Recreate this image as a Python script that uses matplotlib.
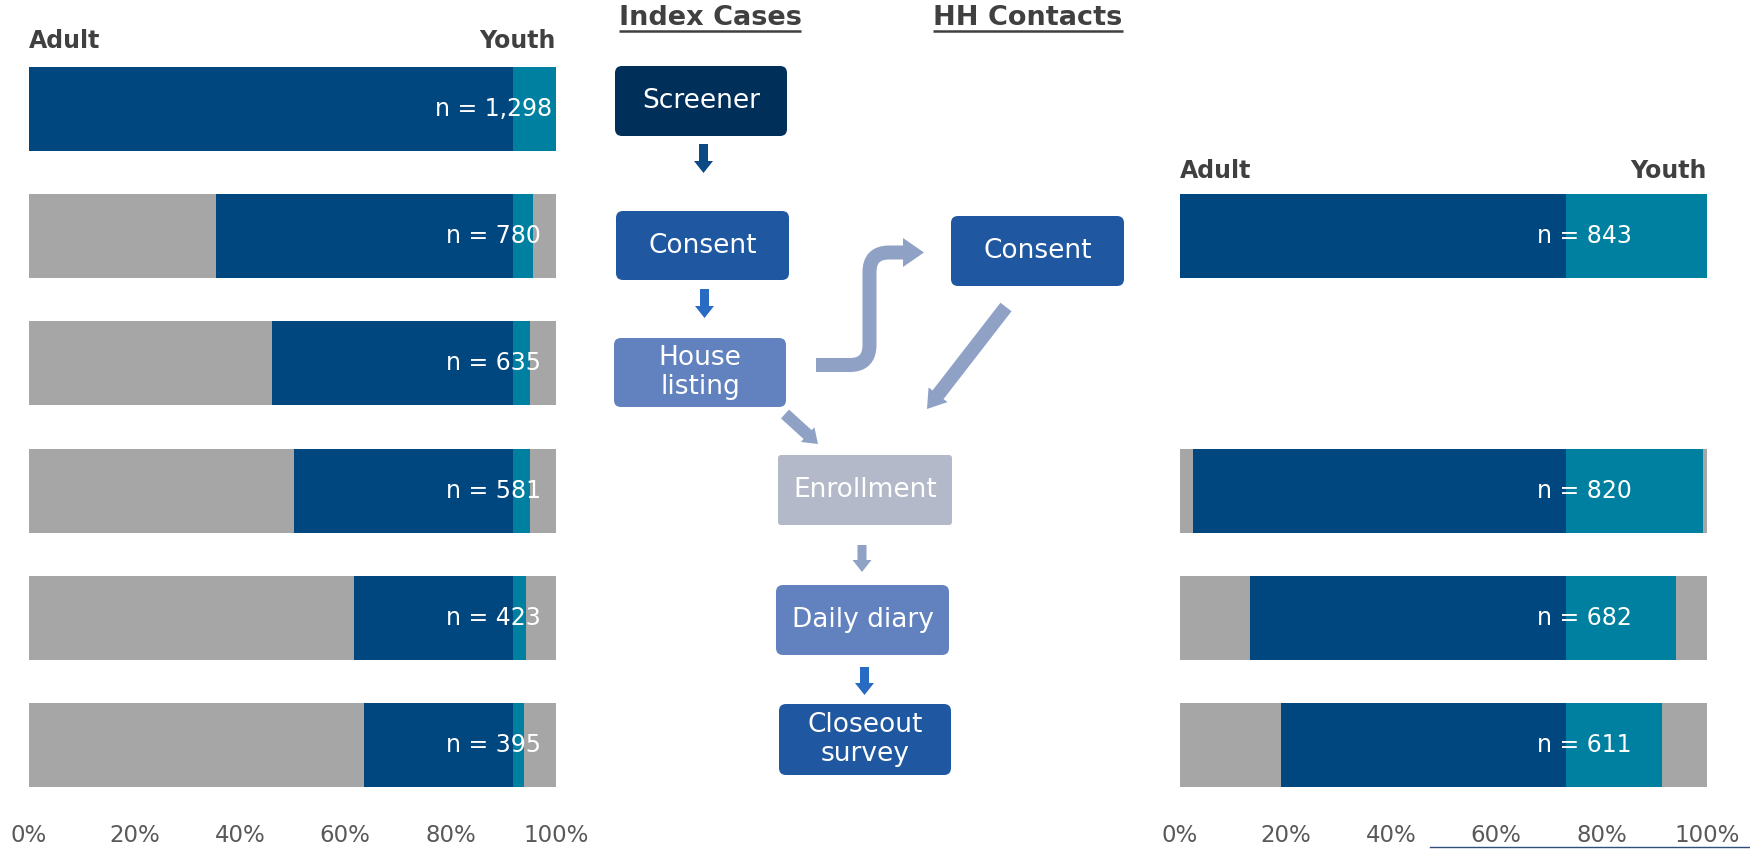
import matplotlib
matplotlib.use("Agg")
import matplotlib.pyplot as plt
from matplotlib.patches import FancyBboxPatch, FancyArrow, PathPatch, Polygon
from matplotlib.path import Path
import numpy as np

plt.rcParams['font.family'] = ['DejaVu Sans']

# ---------------- data ----------------
stages = ["Screener", "Consent", "House listing", "Enrollment", "Daily diary", "Closeout survey"]
tick_vals = [0, 20, 40, 60, 80, 100]
tick_labels = ["0%", "20%", "40%", "60%", "80%", "100%"]

# Index cases (all six stages)
ic_n = [1298, 780, 635, 581, 423, 395]
ic_adult_lost = [0.0, 35.4, 46.2, 50.2, 61.7, 63.6]
ic_adult = [91.9, 56.5, 45.7, 41.7, 30.2, 28.3]
ic_youth = [8.1, 3.7, 3.2, 3.2, 2.4, 2.0]
ic_youth_lost = [0.0, 4.4, 4.9, 4.9, 5.7, 6.1]

# Household contacts
hh_stages = ["Consent", "Enrollment", "Daily diary", "Closeout survey"]
hh_n = [843, 820, 682, 611]
hh_adult_lost = [0.0, 2.4, 13.3, 19.2]
hh_adult = [73.3, 70.9, 60.0, 54.1]
hh_youth = [26.7, 26.0, 20.8, 18.2]
hh_youth_lost = [0.0, 0.7, 5.9, 8.5]

C_GRAY = "#a6a6a6"
C_ADULT = "#00467f"
C_YOUTH = "#0080a0"
TXT_DARK = "#404040"
TXT_TICK = "#595959"

W, H = 1750, 849
fig = plt.figure(figsize=(W / 100, H / 100), dpi=100)

# axes geometry (pixels)
ax_top, ax_bot = 45.2, 808.6
def axrect(x0, x1):
    return [x0 / W, 1 - ax_bot / H, (x1 - x0) / W, (ax_bot - ax_top) / H]

def draw_bars(ax, ypos, lost_a, adult, youth, lost_y, ns, label_x):
    ypos = np.asarray(ypos, dtype=float)
    lost_a = np.asarray(lost_a); adult = np.asarray(adult)
    youth = np.asarray(youth); lost_y = np.asarray(lost_y)
    h = 0.66
    ax.barh(ypos, lost_a, left=0, height=h, color=C_GRAY, edgecolor="none")
    ax.barh(ypos, adult, left=lost_a, height=h, color=C_ADULT, edgecolor="none")
    ax.barh(ypos, youth, left=lost_a + adult, height=h, color=C_YOUTH, edgecolor="none")
    ax.barh(ypos, lost_y, left=lost_a + adult + youth, height=h, color=C_GRAY, edgecolor="none")
    for y, n in zip(ypos, ns):
        ax.text(label_x, y, f"n = {n:,}", color="white", fontsize=17,
                ha="center", va="center")
    ax.set_xlim(0, 100)
    ax.set_ylim(len(stages) - 0.5, -0.5)
    ax.set_xticks(tick_vals)
    ax.set_xticklabels(tick_labels, fontsize=16.5, color=TXT_TICK)
    ax.tick_params(axis="x", length=0, pad=11)
    ax.set_yticks([])
    for s in ax.spines.values():
        s.set_visible(False)
    ax.patch.set_alpha(0)

axL = fig.add_axes(axrect(29, 556))
draw_bars(axL, range(len(stages)), ic_adult_lost, ic_adult, ic_youth, ic_youth_lost, ic_n, 88.1)

axR = fig.add_axes(axrect(1180, 1707))
hh_pos = [stages.index(s) for s in hh_stages]
draw_bars(axR, hh_pos, hh_adult_lost, hh_adult, hh_youth, hh_youth_lost, hh_n, 76.7)

# ---------------- overlay (flowchart) in pixel coords ----------------
ov = fig.add_axes([0, 0, 1, 1], zorder=5)
ov.set_xlim(0, W)
ov.set_ylim(H, 0)
ov.axis("off")
ov.patch.set_alpha(0)

# Adult / Youth headers
for (x0, x1, yc) in [(29, 556, 41), (1180, 1707, 171)]:
    ov.text(x0, yc, "Adult", fontsize=17, fontweight="bold", color=TXT_DARK, ha="left", va="center")
    ov.text(x1, yc, "Youth", fontsize=17, fontweight="bold", color=TXT_DARK, ha="right", va="center")

# Column titles (underlined)
titles = []
for xc, s in [(710, "Index Cases"), (1028, "HH Contacts")]:
    t = ov.text(xc, 18, s, fontsize=19.5, fontweight="bold", color=TXT_DARK, ha="center", va="center")
    titles.append(t)

def box(x0, y0, x1, y1, color, label, r=7):
    p = FancyBboxPatch((x0, y0), x1 - x0, y1 - y0,
                       boxstyle=f"round,pad=0,rounding_size={r}",
                       facecolor=color, edgecolor="none")
    ov.add_patch(p)
    ov.text((x0 + x1) / 2, (y0 + y1) / 2, label, color="white", fontsize=19,
            ha="center", va="center", linespacing=1.12)

box(615, 66, 787, 136, "#002f5a", "Screener")
box(616, 211, 789, 280, "#1f58a0", "Consent")
box(614, 338, 786, 407, "#6181bf", "House\nlisting")
box(951, 216, 1124, 286, "#1f58a0", "Consent")
box(778, 455, 952, 525, "#b3b9c9", "Enrollment", r=3)
box(776, 585, 949, 655, "#6181bf", "Daily diary")
box(779, 704, 951, 775, "#1f58a0", "Closeout\nsurvey")

def down_arrow(xc, y0, y1, color):
    ov.add_patch(FancyArrow(xc, y0, 0, y1 - y0, width=9, head_width=19, head_length=12,
                            length_includes_head=True, color=color, lw=0))

down_arrow(703.5, 144, 173, "#0c4a86")
down_arrow(704.5, 289, 318, "#276bc2")
down_arrow(862, 545, 572, "#8fa2c6")
down_arrow(864.5, 667, 695, "#276bc2")

C_LIGHT = "#8fa2c6"
# diagonal arrows
def diag_arrow(x0, y0, x1, y1, w, hw, hl):
    ov.add_patch(FancyArrow(x0, y0, x1 - x0, y1 - y0, width=w, head_width=hw, head_length=hl,
                            length_includes_head=True, color=C_LIGHT, lw=0))

diag_arrow(1006, 307, 927, 409, 14, 24, 18)
diag_arrow(785, 414, 818, 444, 12, 20, 14)

# S-shaped arrow from House listing to HH Consent
verts = [(816, 365), (850, 365), (869.5, 365), (869.5, 345), (869.5, 272), (869.5, 252.5),
         (889, 252.5), (904, 252.5)]
codes = [Path.MOVETO, Path.LINETO, Path.CURVE3, Path.CURVE3, Path.LINETO, Path.CURVE3,
         Path.CURVE3, Path.LINETO]
ov.add_patch(PathPatch(Path(verts, codes), facecolor="none", edgecolor=C_LIGHT,
                       lw=14 * 72 / 100, capstyle="butt", joinstyle="round"))
ov.add_patch(Polygon([(903, 238), (924, 252.5), (903, 267)], closed=True,
                     facecolor=C_LIGHT, edgecolor="none"))

# thin line at the bottom right
ov.plot([1430, 1750], [847, 847], color="#2f4f7f", lw=1.0)

# underline the titles
fig.canvas.draw()
renderer = fig.canvas.get_renderer()
for t in titles:
    bb = t.get_window_extent(renderer)
    ov.plot([bb.x0, bb.x1], [31, 31], color=TXT_DARK, lw=1.8, solid_capstyle="butt")

fig.savefig("out.png", dpi=100)
